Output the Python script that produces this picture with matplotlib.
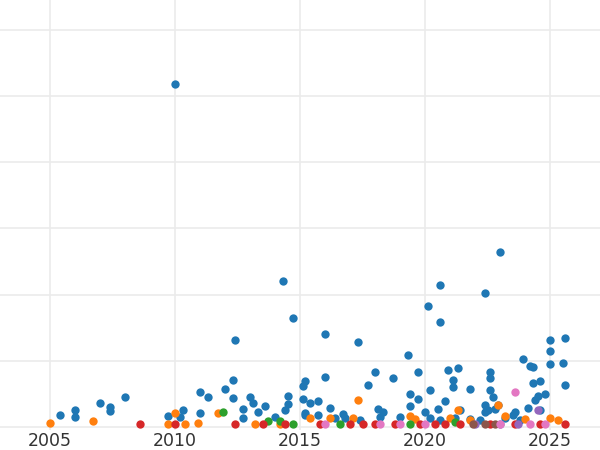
import matplotlib
matplotlib.use("Agg")
import matplotlib.pyplot as plt

blue_x = [2005.4,2006.0,2006.0,2007.0,2007.4,2007.4,2008.0,2009.7,2010.0,2010.3,2010.2,2011.0,2011.0,2011.3,2012.0,2012.3,2012.3,2012.4,2012.7,2012.7,2013.0,2013.1,2013.3,2013.6,2014.0,2014.3,2014.4,2014.5,2014.5,2014.7,2015.1,2015.1,2015.2,2015.2,2015.4,2015.7,2016.0,2016.0,2016.2,2016.7,2017.3,2017.7,2018.0,2018.1,2018.3,2018.7,2019.0,2019.3,2019.4,2019.4,2019.7,2019.7,2020.0,2020.1,2020.2,2020.5,2020.6,2020.6,2020.8,2020.9,2021.1,2021.1,2021.3,2021.4,2021.8,2022.4,2022.4,2022.6,2022.6,2022.6,2022.7,2023.0,2022.9,2023.6,2023.9,2024.1,2024.2,2024.3,2024.3,2024.5,2024.6,2024.8,2025.0,2025.0,2025.0,2025.5,2025.6,2025.6,2022.5,2022.4,2022.8,2023.5,2015.2,2015.7,2016.4,2016.8,2017.4,2018.2,2020.2,2020.6,2021.2,2021.8,2022.2,2023.2,2023.8,2024.4,2024.6]
blue_y = [0.18,0.26,0.15,0.36,0.30,0.24,0.45,0.17,5.18,0.26,0.15,0.52,0.21,0.45,0.58,0.71,0.44,1.32,0.27,0.14,0.45,0.36,0.23,0.32,0.15,2.20,0.26,0.35,0.47,1.65,0.62,0.42,0.70,0.21,0.36,0.39,1.41,0.76,0.29,0.20,1.29,0.64,0.83,0.27,0.23,0.74,0.15,1.08,0.50,0.32,0.42,0.83,0.23,1.82,0.55,0.27,2.15,1.58,0.39,0.86,0.61,0.71,0.89,0.26,0.58,2.03,0.33,0.83,0.74,0.55,0.45,2.64,0.33,0.23,1.02,0.29,0.92,0.67,0.91,0.47,0.70,0.50,1.32,1.14,0.95,0.97,1.35,0.64,0.26,0.23,0.27,0.18,0.18,0.18,0.14,0.14,0.11,0.15,0.14,0.11,0.14,0.12,0.11,0.14,0.11,0.41,0.26]
orange_x = [2005.0,2006.7,2009.7,2010.0,2010.4,2010.9,2011.7,2013.2,2014.2,2015.4,2016.2,2017.1,2017.3,2019.4,2019.6,2021.0,2021.3,2021.8,2022.9,2024.0,2025.0,2025.3,2023.2]
orange_y = [0.06,0.09,0.05,0.21,0.05,0.06,0.21,0.05,0.05,0.14,0.14,0.14,0.41,0.17,0.12,0.14,0.26,0.11,0.33,0.12,0.14,0.11,0.17]
green_x = [2011.9,2013.7,2014.2,2014.7,2016.6,2019.4,2021.2]
green_y = [0.23,0.09,0.09,0.05,0.05,0.05,0.08]
red_x = [2008.6,2010.0,2012.4,2013.5,2014.4,2015.8,2017.0,2017.5,2018.0,2018.8,2019.8,2020.4,2020.8,2021.4,2022.6,2023.6,2024.6,2025.6]
red_y = [0.05]*len(red_x)
purple_x = [2024.5,2022.0,2023.0,2023.7]
purple_y = [0.26,0.05,0.05,0.05]
brown_x = [2021.9,2022.4,2022.8]
brown_y = [0.05,0.05,0.05]
pink_x = [2023.6,2016.0,2018.2,2019.0,2020.0,2024.2,2024.8,2023.0]
pink_y = [0.52,0.05,0.05,0.05,0.05,0.05,0.05,0.05]

fig = plt.figure(figsize=(6,4.5), dpi=100)
ax = fig.add_axes([0,0.044,1,0.956])
series = [(blue_x,blue_y,'#1f77b4'),(orange_x,orange_y,'#ff7f0e'),(green_x,green_y,'#2ca02c'),
          (red_x,red_y,'#d62728'),(purple_x,purple_y,'#9467bd'),(brown_x,brown_y,'#8c564b'),
          (pink_x,pink_y,'#e377c2')]
for x,y,c in series:
    ax.scatter(x,y,s=36,color=c,linewidths=0,zorder=3)
ax.set_xlim(2003,2027)
ax.set_ylim(-0.05,6.45)
ax.set_xticks([2005,2010,2015,2020,2025])
ax.set_yticks([0,1,2,3,4,5,6])
ax.set_yticklabels([])
ax.grid(True,color='#ebebeb',linewidth=1.2,zorder=0)
for s in ax.spines.values():
    s.set_visible(False)
ax.tick_params(length=0,labelsize=12.5,colors='#333333',pad=1.5)
fig.savefig("out.png")
